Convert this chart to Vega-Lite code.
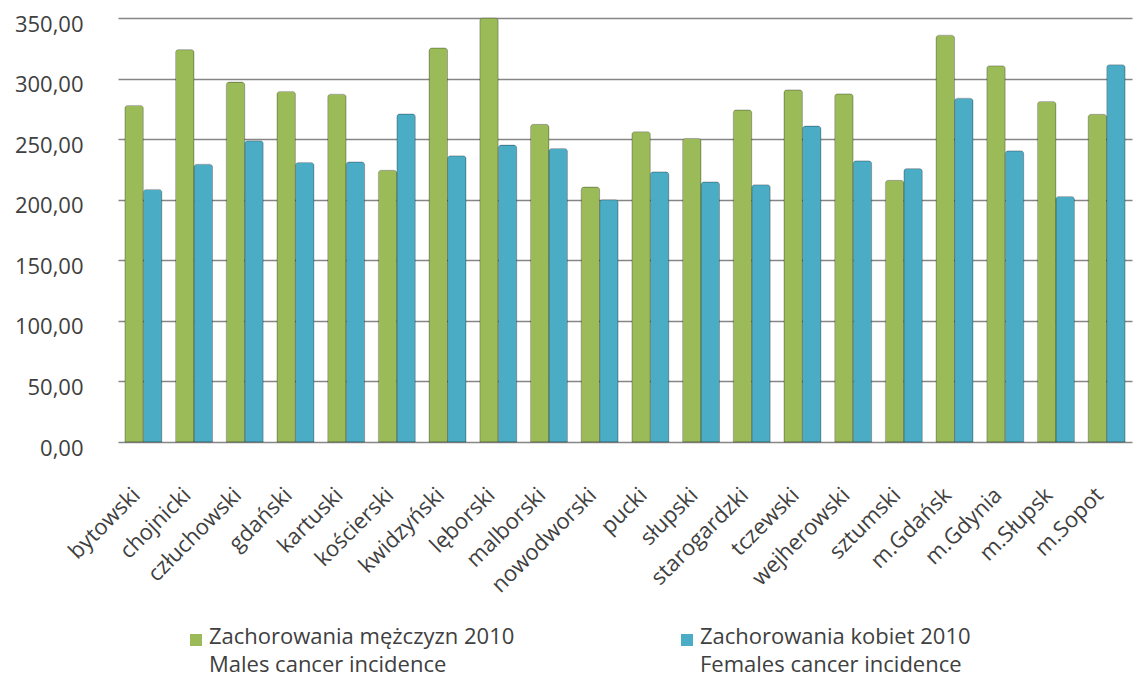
{
  "$schema": "https://vega.github.io/schema/vega-lite/v6.json",
  "width": 1014,
  "height": 424,
  "autosize": {"type": "none"},
  "padding": {"left": 118, "top": 18, "right": 6, "bottom": 238},
  "background": "white",
  "config": {
    "view": {"stroke": null},
    "locale": {"number": {"decimal": ",", "thousands": " ", "grouping": [3], "currency": ["", " zł"]}}
  },
  "data": {
    "values": [
      {"powiat": "bytowski", "seria": "Zachorowania mężczyzn 2010|Males cancer incidence", "wartosc": 277.8},
      {"powiat": "bytowski", "seria": "Zachorowania kobiet 2010|Females cancer incidence", "wartosc": 208.5},
      {"powiat": "chojnicki", "seria": "Zachorowania mężczyzn 2010|Males cancer incidence", "wartosc": 323.9},
      {"powiat": "chojnicki", "seria": "Zachorowania kobiet 2010|Females cancer incidence", "wartosc": 229.3},
      {"powiat": "człuchowski", "seria": "Zachorowania mężczyzn 2010|Males cancer incidence", "wartosc": 297.1},
      {"powiat": "człuchowski", "seria": "Zachorowania kobiet 2010|Females cancer incidence", "wartosc": 248.7},
      {"powiat": "gdański", "seria": "Zachorowania mężczyzn 2010|Males cancer incidence", "wartosc": 289.4},
      {"powiat": "gdański", "seria": "Zachorowania kobiet 2010|Females cancer incidence", "wartosc": 230.7},
      {"powiat": "kartuski", "seria": "Zachorowania mężczyzn 2010|Males cancer incidence", "wartosc": 287.1},
      {"powiat": "kartuski", "seria": "Zachorowania kobiet 2010|Females cancer incidence", "wartosc": 231.2},
      {"powiat": "kościerski", "seria": "Zachorowania mężczyzn 2010|Males cancer incidence", "wartosc": 224.3},
      {"powiat": "kościerski", "seria": "Zachorowania kobiet 2010|Females cancer incidence", "wartosc": 270.8},
      {"powiat": "kwidzyński", "seria": "Zachorowania mężczyzn 2010|Males cancer incidence", "wartosc": 325.3},
      {"powiat": "kwidzyński", "seria": "Zachorowania kobiet 2010|Females cancer incidence", "wartosc": 236.3},
      {"powiat": "lęborski", "seria": "Zachorowania mężczyzn 2010|Males cancer incidence", "wartosc": 362.0},
      {"powiat": "lęborski", "seria": "Zachorowania kobiet 2010|Females cancer incidence", "wartosc": 245.1},
      {"powiat": "malborski", "seria": "Zachorowania mężczyzn 2010|Males cancer incidence", "wartosc": 262.2},
      {"powiat": "malborski", "seria": "Zachorowania kobiet 2010|Females cancer incidence", "wartosc": 242.3},
      {"powiat": "nowodworski", "seria": "Zachorowania mężczyzn 2010|Males cancer incidence", "wartosc": 210.5},
      {"powiat": "nowodworski", "seria": "Zachorowania kobiet 2010|Females cancer incidence", "wartosc": 200.0},
      {"powiat": "pucki", "seria": "Zachorowania mężczyzn 2010|Males cancer incidence", "wartosc": 256.2},
      {"powiat": "pucki", "seria": "Zachorowania kobiet 2010|Females cancer incidence", "wartosc": 223.0},
      {"powiat": "słupski", "seria": "Zachorowania mężczyzn 2010|Males cancer incidence", "wartosc": 250.6},
      {"powiat": "słupski", "seria": "Zachorowania kobiet 2010|Females cancer incidence", "wartosc": 214.7},
      {"powiat": "starogardzki", "seria": "Zachorowania mężczyzn 2010|Males cancer incidence", "wartosc": 274.1},
      {"powiat": "starogardzki", "seria": "Zachorowania kobiet 2010|Females cancer incidence", "wartosc": 212.4},
      {"powiat": "tczewski", "seria": "Zachorowania mężczyzn 2010|Males cancer incidence", "wartosc": 290.7},
      {"powiat": "tczewski", "seria": "Zachorowania kobiet 2010|Females cancer incidence", "wartosc": 260.8},
      {"powiat": "wejherowski", "seria": "Zachorowania mężczyzn 2010|Males cancer incidence", "wartosc": 287.4},
      {"powiat": "wejherowski", "seria": "Zachorowania kobiet 2010|Females cancer incidence", "wartosc": 232.1},
      {"powiat": "sztumski", "seria": "Zachorowania mężczyzn 2010|Males cancer incidence", "wartosc": 216.0},
      {"powiat": "sztumski", "seria": "Zachorowania kobiet 2010|Females cancer incidence", "wartosc": 225.7},
      {"powiat": "m.Gdańsk", "seria": "Zachorowania mężczyzn 2010|Males cancer incidence", "wartosc": 335.8},
      {"powiat": "m.Gdańsk", "seria": "Zachorowania kobiet 2010|Females cancer incidence", "wartosc": 283.8},
      {"powiat": "m.Gdynia", "seria": "Zachorowania mężczyzn 2010|Males cancer incidence", "wartosc": 310.6},
      {"powiat": "m.Gdynia", "seria": "Zachorowania kobiet 2010|Females cancer incidence", "wartosc": 240.4},
      {"powiat": "m.Słupsk", "seria": "Zachorowania mężczyzn 2010|Males cancer incidence", "wartosc": 281.1},
      {"powiat": "m.Słupsk", "seria": "Zachorowania kobiet 2010|Females cancer incidence", "wartosc": 202.7},
      {"powiat": "m.Sopot", "seria": "Zachorowania mężczyzn 2010|Males cancer incidence", "wartosc": 270.5},
      {"powiat": "m.Sopot", "seria": "Zachorowania kobiet 2010|Females cancer incidence", "wartosc": 311.5}
    ]
  },
  "mark": {"type": "bar", "stroke": "#000000", "strokeOpacity": 0.22, "strokeWidth": 1, "cornerRadiusTopLeft": 3, "cornerRadiusTopRight": 3},
  "encoding": {
    "x": {
      "field": "powiat", "type": "nominal", "sort": null,
      "scale": {"paddingInner": 0.27, "paddingOuter": 0.135},
      "axis": {"title": null, "labelAngle": -45, "labelFont": "Open Sans", "labelFontSize": 22, "labelColor": "#404040", "domain": false, "ticks": false, "tickSize": 0, "labelPadding": 42, "labelOffset": -14, "grid": false}
    },
    "xOffset": {"field": "seria", "type": "nominal", "sort": null, "scale": {"paddingInner": 0, "paddingOuter": 0}},
    "y": {
      "field": "wartosc", "type": "quantitative",
      "scale": {"domain": [0, 350], "nice": false, "clamp": true},
      "axis": {"title": null, "values": [0, 50, 100, 150, 200, 250, 300, 350], "format": ".2f", "domain": false, "ticks": false, "tickSize": 0, "labelFont": "Open Sans", "labelFontSize": 22, "labelColor": "#404040", "labelPadding": 35, "labelOffset": 6, "gridColor": "#868686", "gridWidth": 1.6}
    },
    "color": {
      "field": "seria", "type": "nominal", "sort": null,
      "scale": {"range": ["#9BBB59", "#4BACC6"]},
      "legend": {
        "orient": "none", "legendX": 67, "legendY": 611, "direction": "horizontal", "columns": 2, "title": null, "padding": 0,
        "symbolType": "square", "symbolSize": 144, "symbolStrokeWidth": 0, "symbolOpacity": 1,
        "labelFont": "Open Sans", "labelFontSize": 22, "labelColor": "#404040", "labelOffset": 2, "labelLimit": 500,
        "columnPadding": 161, "labelBaseline": "top",
        "labelExpr": "split(datum.label, '|')",
        "encoding": {"labels": {"lineHeight": {"value": 28}, "dy": {"value": -13}}}
      }
    }
  }
}
